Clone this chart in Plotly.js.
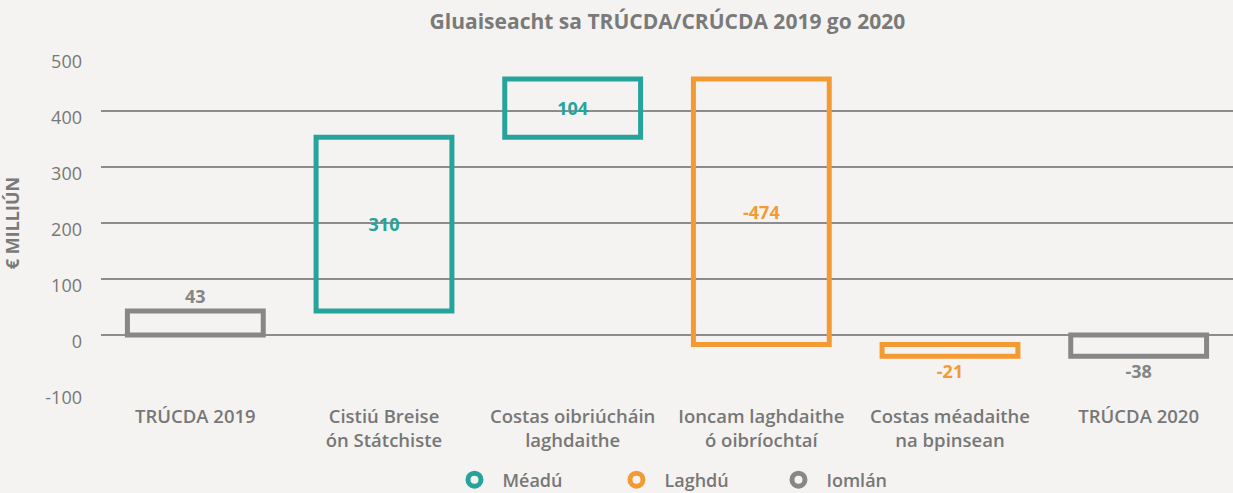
<!DOCTYPE html>
<html>
<head>
<meta charset="utf-8">
<script src="https://cdn.plot.ly/plotly-3.0.1.min.js"></script>
<style>
html,body{margin:0;padding:0;background:#f4f3f1;}
#chart{width:1233px;height:493px;}
</style>
</head>
<body>
<div id="chart"></div>
<script>
const categories = ["TRÚCDA 2019", "Cistiú Breise<br>ón Státchiste", "Costas oibriúcháin<br>laghdaithe", "Ioncam laghdaithe<br>ó oibríochtaí", "Costas méadaithe<br>na bpinsean", "TRÚCDA 2020"];
const values = [43, 310, 104, -474, -21, -38];
const measures = ["absolute", "relative", "relative", "relative", "relative", "total"];
const labels = ["43", "310", "104", "-474", "-21", "-38"];
const legendNames = ["Méadú", "Laghdú", "Iomlán"];
const yTicks = [-100, 0, 100, 200, 300, 400, 500];
const yTickLabels = ["-100", "0", "100", "200", "300", "400", "500"];

const teal = "#26a39b", orange = "#f49a32", gray = "#878787";
const txtGray = "#777777";
const font = "Open Sans, sans-serif";

const textColors = values.map((v, i) => measures[i] !== "relative" ? "#858585" : (v >= 0 ? teal : orange));
const textPos = values.map((v, i) => (Math.abs(v) < 60 || measures[i] !== "relative") ? "outside" : "inside");

const wf = {
  type: "waterfall",
  x: categories,
  y: values,
  measure: measures,
  text: labels,
  textposition: textPos,
  insidetextanchor: "middle",
  constraintext: "none",
  cliponaxis: false,
  textfont: {family: font, size: 18, color: textColors, weight: 700},
  insidetextfont: {family: font, size: 18, color: textColors, weight: 700},
  outsidetextfont: {family: font, size: 18, color: textColors, weight: 700},
  increasing: {marker: {color: "rgba(0,0,0,0)", line: {color: teal, width: 5}}},
  decreasing: {marker: {color: "rgba(0,0,0,0)", line: {color: orange, width: 5}}},
  totals: {marker: {color: "rgba(0,0,0,0)", line: {color: gray, width: 5}}},
  connector: {visible: false},
  showlegend: false,
  hoverinfo: "skip"
};

const legColors = [teal, orange, gray];
const legTraces = legendNames.map((n, i) => ({
  type: "scatter",
  mode: "markers",
  x: [categories[0]],
  y: [null],
  name: n,
  marker: {symbol: "circle", size: 13, color: "rgba(0,0,0,0)", line: {width: 5, color: legColors[i]}},
  hoverinfo: "skip"
}));

const layout = {
  width: 1233,
  height: 493,
  paper_bgcolor: "#f4f3f1",
  plot_bgcolor: "#f4f3f1",
  margin: {l: 101, r: 0, t: 55, b: 102},
  font: {family: font, color: txtGray, size: 17},
  title: {
    text: "Gluaiseacht sa TRÚCDA/CRÚCDA 2019 go 2020",
    font: {family: font, size: 21, color: "#7a7a7a", weight: 700},
    x: 0.5413, xanchor: "center", y: 0.957, yanchor: "middle"
  },
  waterfallgap: 0.28,
  xaxis: {
    type: "category",
    showgrid: false,
    zeroline: false,
    showline: false,
    ticks: "",
    ticklabelstandoff: 12,
    tickfont: {family: font, size: 18.5, color: txtGray, weight: 600},
    automargin: false
  },
  yaxis: {
    range: [-100, 500],
    tickvals: yTicks,
    ticktext: yTickLabels,
    showgrid: true,
    gridcolor: "#8c8c8c",
    gridwidth: 1.3,
    zeroline: false,
    showline: false,
    ticks: "",
    ticklabelstandoff: 18,
    ticklabelshift: 7,
    tickfont: {family: font, size: 18, color: txtGray},
    title: {text: "€ MILLIÚN", font: {family: font, size: 18, color: "#7a7a7a", weight: 700}, standoff: 21},
    automargin: false
  },
  showlegend: true,
  legend: {
    orientation: "h",
    xref: "container", yref: "container",
    x: 0.3621, xanchor: "left",
    y: 0.0264, yanchor: "middle",
    font: {family: font, size: 18, color: txtGray, weight: 600},
    itemwidth: 46,
    entrywidth: 101,
    entrywidthmode: "pixels",
    bgcolor: "rgba(0,0,0,0)"
  },
  hovermode: false
};

Plotly.newPlot("chart", [wf].concat(legTraces), layout, {displayModeBar: false, staticPlot: true});
</script>
</body>
</html>
